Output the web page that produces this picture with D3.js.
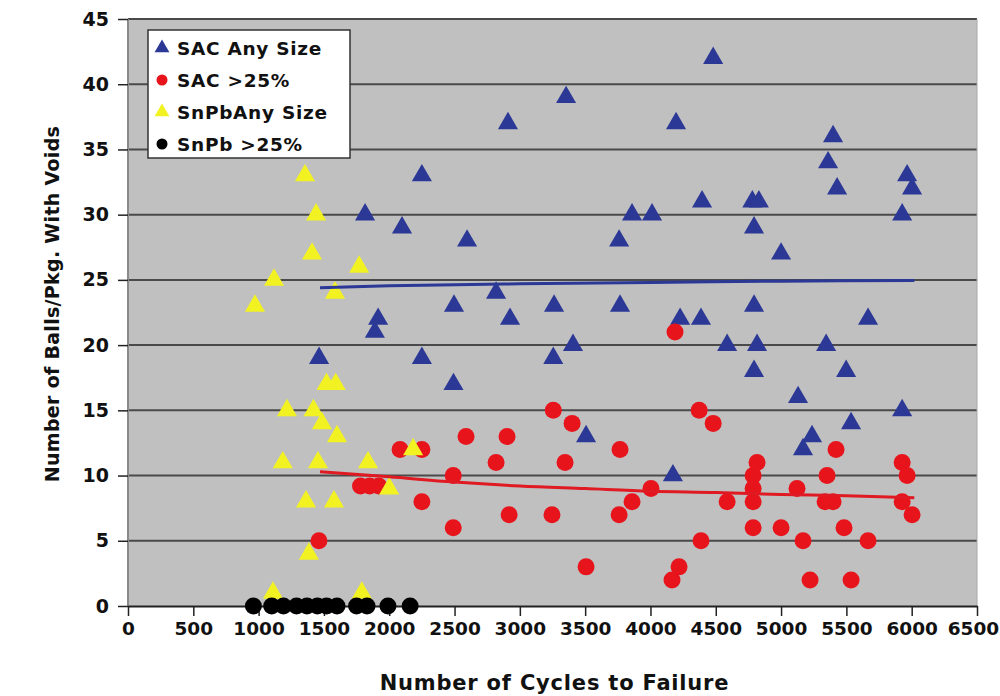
<!DOCTYPE html>
<html>
<head>
<meta charset="utf-8">
<script src="https://cdn.jsdelivr.net/npm/d3@7"></script>
<style>
  body { margin: 0; background: #fff; }
  text { font-family: "DejaVu Sans", sans-serif; font-weight: bold; fill: #111; }
</style>
</head>
<body>
<div id="chart"></div>
<script>
// values: [cycles to failure, balls with voids]
const sacAny = [
  [1463,19],[1815,30],[1890,21],[1915,22],[2098,29],[2250,33],[2250,19],[2492,17],
  [2496,23],[2596,28],[2818,24],[2909,37],[2925,22],[3256,19],[3262,23],[3354,39],
  [3407,20],[3507,13],[3760,28],[3767,23],[3859,30],[4012,30],[4172,10],[4196,37],
  [4227,22],[4387,22],[4395,31],[4480,42],[4587,20],[4780,31],[4830,31],[4793,29],
  [4793,23],[4816,20],[4793,18],[5000,27],[5130,16],[5168,12],[5237,13],[5345,20],
  [5360,34],[5398,36],[5429,32],[5498,18],[5536,14],[5666,22],[5927,30],[5927,15],
  [5965,33],[6003,32]
];
const sac25 = [
  [1462,5],[1780,9.2],[1850,9.2],[1920,9.2],[2083,12],[2250,12],[2250,8],[2490,10],
  [2490,6],[2588,13],[2818,11],[2902,13],[2918,7],[3246,7],[3256,15],[3346,11],
  [3400,14],[3507,3],[3760,7],[3767,12],[3859,8],[4004,9],[4165,2],[4188,21],
  [4219,3],[4373,15],[4387,5],[4480,14],[4587,8],[4786,6],[4786,8],[4786,9],
  [4786,10],[4816,11],[5000,6],[5122,9],[5168,5],[5222,2],[5337,8],[5352,10],
  [5398,8],[5421,12],[5482,6],[5536,2],[5666,5],[5927,8],[5927,11],[5965,10],[6003,7]
];
const snpbAny = [
  [972,23],[1118,25],[1110,1],[1185,11],[1217,15],[1355,33],[1363,8],[1385,4],
  [1409,27],[1420,15],[1440,30],[1455,11],[1485,14],[1520,17],[1590,17],[1577,8],
  [1585,24],[1600,13],[1770,26],[1790,1],[1838,11],[2000,9],[2183,12]
];
const snpb25 = [960,1100,1190,1290,1370,1450,1520,1600,1750,1830,1990,2160].map(c => [c, 0]);

// trend lines
const sacAnyTrend = [[1470,24.4],[2000,24.55],[3000,24.7],[4000,24.8],[5000,24.9],[6020,24.95]];
const sac25Trend = [[1470,10.3],[2000,9.9],[2500,9.5],[3000,9.2],[3500,9.0],[4000,8.8],
                    [4500,8.7],[5000,8.55],[5500,8.45],[6020,8.3]];

const xTicks = d3.range(0, 6501, 500);
const yTicks = d3.range(0, 46, 5);

const series = [
  { name: "SAC Any Size", data: sacAny, shape: "tri", color: "#2b3896" },
  { name: "SAC >25%", data: sac25, shape: "dot", color: "#e8141c" },
  { name: "SnPbAny Size", data: snpbAny, shape: "tri", color: "#f2f222" },
  { name: "SnPb >25%", data: snpb25, shape: "dot", color: "#000" }
];

const W = 1000, H = 696;
const x = d3.scaleLinear().domain([0, 6500]).range([128, 977]);
const y = d3.scaleLinear().domain([0, 45]).range([606, 19]);

const svg = d3.select("#chart").append("svg")
  .attr("width", W).attr("height", H);

svg.append("rect")
  .attr("x", x(0)).attr("y", y(45))
  .attr("width", x(6500) - x(0)).attr("height", y(0) - y(45))
  .attr("fill", "#c0c0c0");

// grid
svg.append("g").selectAll("line")
  .data(yTicks.filter(d => d > 0))
  .join("line")
  .attr("x1", x(0)).attr("x2", x(6500))
  .attr("y1", d => y(d)).attr("y2", d => y(d))
  .attr("stroke", "#4a4a4a").attr("stroke-width", 2);

svg.append("line")
  .attr("x1", x(0)).attr("x2", x(0)).attr("y1", y(45)).attr("y2", y(0))
  .attr("stroke", "#8a8a8a").attr("stroke-width", 2);
svg.append("line")
  .attr("x1", x(6500)).attr("x2", x(6500)).attr("y1", y(45)).attr("y2", y(0))
  .attr("stroke", "#a8a8a8").attr("stroke-width", 1);

// axes
const xAxis = svg.append("g")
  .attr("transform", `translate(0,${y(0)})`)
  .call(d3.axisBottom(x).tickValues(xTicks).tickFormat(d3.format("d"))
    .tickSize(10).tickPadding(6).tickSizeOuter(0));
xAxis.select(".domain").attr("stroke", "#222").attr("stroke-width", 2);
xAxis.selectAll(".tick line").attr("stroke", "#222").attr("stroke-width", 1.5);
xAxis.selectAll("text").style("font-size", "18.5px").attr("fill", "#111")
  .attr("dx", d => d === 6500 ? -4 : 0);

const yAxis = svg.append("g")
  .attr("transform", `translate(${x(0)},0)`)
  .call(d3.axisLeft(y).tickValues(yTicks).tickSize(10).tickPadding(9).tickSizeOuter(0));
yAxis.select(".domain").remove();
yAxis.selectAll(".tick line").attr("stroke", "#222").attr("stroke-width", 1.5);
yAxis.selectAll("text").style("font-size", "19px").attr("fill", "#111");

// points
const triangle = d3.symbol(d3.symbolTriangle, 175);
series.forEach(s => {
  const g = svg.append("g");
  if (s.shape === "tri") {
    g.selectAll("path").data(s.data).join("path")
      .attr("d", triangle)
      .attr("transform", d => `translate(${x(d[0])},${y(d[1])})`)
      .attr("fill", s.color);
  } else {
    g.selectAll("circle").data(s.data).join("circle")
      .attr("cx", d => x(d[0])).attr("cy", d => y(d[1]))
      .attr("r", 8.5)
      .attr("fill", s.color);
  }
});

// trend lines
const line = d3.line().x(d => x(d[0])).y(d => y(d[1])).curve(d3.curveMonotoneX);
svg.append("path").datum(sacAnyTrend).attr("d", line)
  .attr("fill", "none").attr("stroke", "#2b3896").attr("stroke-width", 3);
svg.append("path").datum(sac25Trend).attr("d", line)
  .attr("fill", "none").attr("stroke", "#e01a22").attr("stroke-width", 3);

// legend
const lg = svg.append("g").attr("transform", "translate(148,30)");
lg.append("rect").attr("width", 202).attr("height", 128)
  .attr("fill", "#fff").attr("stroke", "#333").attr("stroke-width", 1.5);
const legendTri = d3.symbol(d3.symbolTriangle, 95);
series.forEach((s, i) => {
  const cy = 18 + i * 32;
  if (s.shape === "tri") {
    lg.append("path").attr("d", legendTri)
      .attr("transform", `translate(14,${cy})`).attr("fill", s.color);
  } else {
    lg.append("circle").attr("cx", 14).attr("cy", cy).attr("r", 5.5).attr("fill", s.color);
  }
  lg.append("text").attr("x", 29).attr("y", cy + 7)
    .style("font-size", "18.5px").style("letter-spacing", "0.7px").text(s.name);
});

// axis titles
svg.append("text")
  .attr("x", (x(0) + x(6500)) / 2 + 2).attr("y", 690)
  .attr("text-anchor", "middle").style("font-size", "21px").style("letter-spacing", "0.8px")
  .text("Number of Cycles to Failure");
svg.append("text")
  .attr("transform", "translate(59,304) rotate(-90)")
  .attr("text-anchor", "middle").style("font-size", "19px").style("letter-spacing", "0.3px")
  .text("Number of Balls/Pkg. With Voids");
</script>
</body>
</html>
